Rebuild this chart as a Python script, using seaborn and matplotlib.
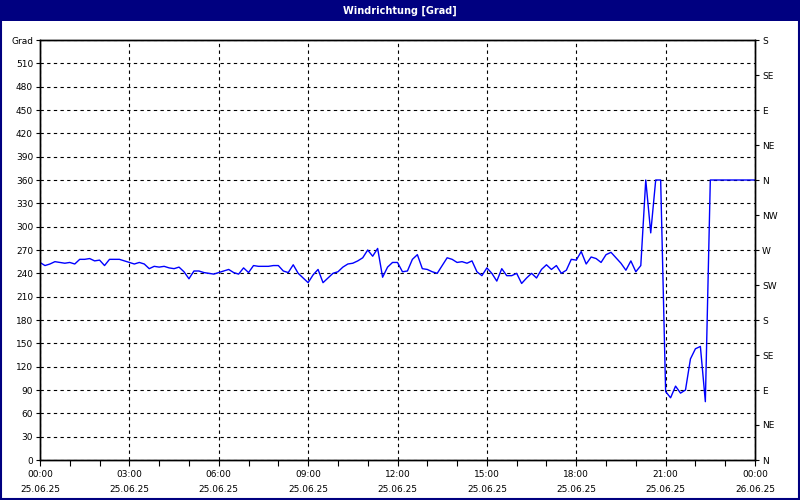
import numpy as np
import pandas as pd
import matplotlib
matplotlib.use("Agg")
import matplotlib.pyplot as plt
import matplotlib.dates as mdates
from matplotlib.patches import Rectangle
import seaborn as sns

# wind direction in degrees, 10 minute readings from 25.06.25 00:00
grad = [254, 250, 252, 255, 254, 253, 254, 252, 258, 258, 259, 256, 257, 250, 258, 258, 258, 256, 254, 252,
        254, 252, 246, 249, 248,
        249, 247, 246, 248, 242, 233, 243, 243, 241, 240, 239, 241, 243, 245, 241, 239, 247, 241, 250, 249,
        249, 249, 250, 250, 243,
        241, 251, 240, 234, 228, 238, 245, 228, 234, 240, 242, 248, 252, 253, 256, 260, 270, 262, 272, 235,
        248, 254, 254, 242,
        243, 258, 264, 246, 245, 242, 240, 250, 260, 258, 254, 255, 253, 256, 242, 237, 247, 240, 230, 246,
        237, 237, 240, 227, 234,
        240, 234, 245, 251, 245, 250, 240, 244, 258, 257, 268, 252, 261, 259, 254, 264, 267, 260, 253, 244,
        256, 242, 250,
        360, 292, 360, 360, 88, 80, 95, 86, 90, 130, 143, 146, 75, 360,
        360, 360, 360, 360, 360, 360, 360, 360, 360]
zeit = pd.date_range("2025-06-25 00:00", periods=len(grad), freq="10min")

left_ticks = list(range(0, 541, 30))
left_labels = [str(v) for v in left_ticks[:-1]] + ["Grad"]
right_ticks = list(range(0, 541, 45))
right_labels = ["N", "NE", "E", "SE", "S", "SW", "W", "NW", "N", "NE", "E", "SE", "S"]

df = pd.DataFrame({"zeit": zeit, "grad": grad})

sns.set_style("white")
plt.rcParams["font.family"] = ["DejaVu Sans"]
plt.rcParams["text.color"] = "black"
plt.rcParams["xtick.color"] = "black"
plt.rcParams["ytick.color"] = "black"

fig = plt.figure(figsize=(8, 5), dpi=100)
fig.patch.set_facecolor("white")
ax = fig.add_axes([0.05, 0.08, 0.89375, 0.84])

sns.lineplot(data=df, x="zeit", y="grad", ax=ax, color="#0000ff", linewidth=1)

start = pd.Timestamp("2025-06-25 00:00")
end = pd.Timestamp("2025-06-26 00:00")
ax.set_xlim(start, end)
ax.set_ylim(0, 540)
ax.set_xlabel("")
ax.set_ylabel("")

ax.xaxis.set_major_locator(mdates.HourLocator(byhour=range(0, 24, 3)))
ax.xaxis.set_minor_locator(mdates.HourLocator())
ax.xaxis.set_major_formatter(mdates.DateFormatter("%H:%M\n%d.%m.%y"))
ax.set_yticks(left_ticks)
ax.set_yticklabels(left_labels)

ax.grid(True, which="major", color="black", linestyle=(0, (3, 3)), linewidth=0.8)
for s in ax.spines.values():
    s.set_color("black")
    s.set_linewidth(1)
ax.tick_params(axis="x", which="both", direction="out", length=4, width=0.8,
               labelsize=6.5, pad=3, bottom=True, colors="black")
ax.tick_params(axis="y", direction="out", length=3, width=0.8, labelsize=6.5, pad=2,
               left=True, colors="black")
for lab in ax.get_xticklabels():
    lab.set_linespacing(1.85)

ax2 = ax.twinx()
ax2.set_ylim(0, 540)
ax2.set_yticks(right_ticks)
ax2.set_yticklabels(right_labels)
ax2.tick_params(axis="y", direction="out", length=3, width=0.8, labelsize=6.5, pad=2,
                right=True, colors="black")
for s in ax2.spines.values():
    s.set_color("black")
    s.set_linewidth(1)

# title bar and frame
fig.patches.append(Rectangle((0, 1 - 21 / 500), 1, 21 / 500, transform=fig.transFigure,
                             facecolor="#000080", edgecolor="none", zorder=0))
fig.patches.append(Rectangle((0.001, 0.002), 0.998, 0.996, transform=fig.transFigure,
                             facecolor="none", edgecolor="#000080", linewidth=1.5, zorder=5))
fig.text(0.5, 1 - 10.5 / 500, "Windrichtung [Grad]", color="white", fontsize=7,
         fontweight="bold", ha="center", va="center")

fig.savefig("out.png", dpi=100, facecolor=fig.get_facecolor())
